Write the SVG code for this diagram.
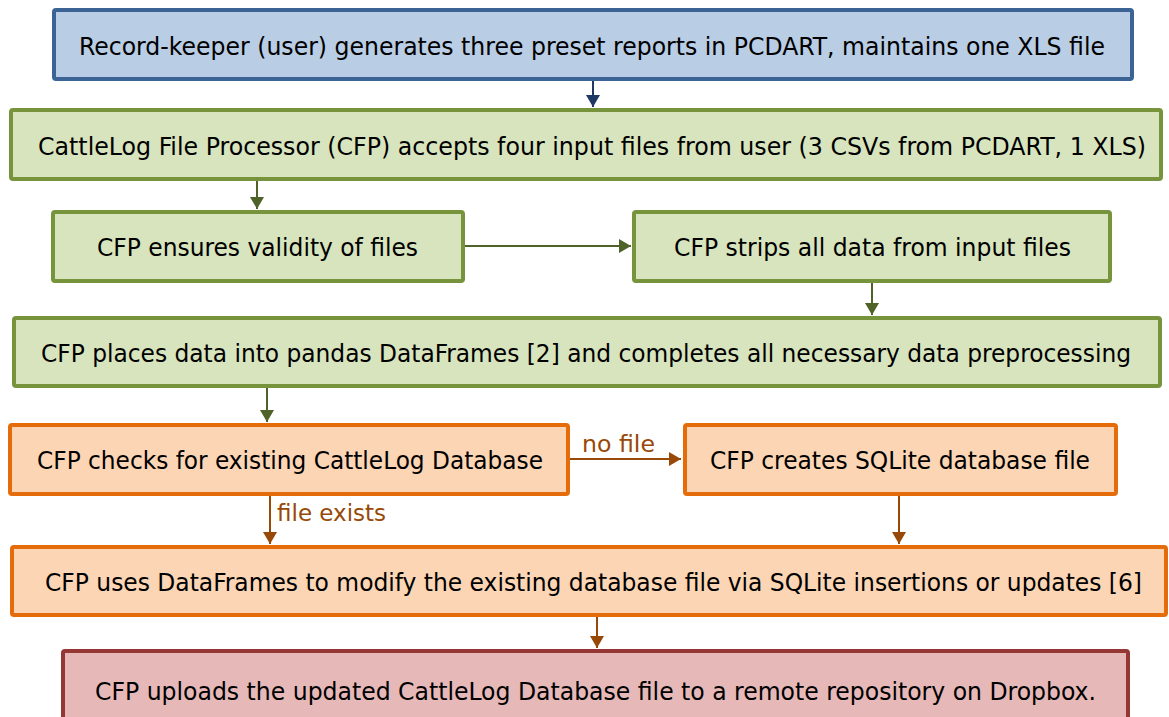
<svg xmlns="http://www.w3.org/2000/svg" width="1169" height="717" viewBox="0 0 1169 717">
<style>
text{font-family:"DejaVu Sans Condensed","DejaVu Sans","Liberation Sans",sans-serif;font-size:25px;fill:#000}
.blue{fill:#b9cde5;stroke:#3b6396;stroke-width:4}
.green{fill:#d7e4bd;stroke:#77933c;stroke-width:4}
.orange{fill:#fcd5b5;stroke:#e46c0a;stroke-width:4}
.red{fill:#e6b9b8;stroke:#953735;stroke-width:4}
.cg{stroke:#4f6228;stroke-width:2;fill:none}
.co{stroke:#984807;stroke-width:2;fill:none}
.cb{stroke:#1f3864;stroke-width:2;fill:none}
.lbl{fill:#984807;font-size:23px}
</style>
<defs>
<marker id="ag" markerUnits="userSpaceOnUse" markerWidth="14" markerHeight="14" refX="12" refY="7" orient="auto"><path d="M0,0 L12,7 L0,14 Z" fill="#4f6228"/></marker>
<marker id="ao" markerUnits="userSpaceOnUse" markerWidth="14" markerHeight="14" refX="12" refY="7" orient="auto"><path d="M0,0 L12,7 L0,14 Z" fill="#984807"/></marker>
<marker id="ab" markerUnits="userSpaceOnUse" markerWidth="14" markerHeight="14" refX="12" refY="7" orient="auto"><path d="M0,0 L12,7 L0,14 Z" fill="#1f3864"/></marker>
</defs>
<g id="connectors">
<line class="cb" x1="593" y1="81" x2="593" y2="107" marker-end="url(#ab)"/>
<line class="cg" x1="257" y1="181" x2="257" y2="209" marker-end="url(#ag)"/>
<line class="cg" x1="465" y1="246" x2="631" y2="246" marker-end="url(#ag)"/>
<line class="cg" x1="872" y1="283" x2="872" y2="315" marker-end="url(#ag)"/>
<line class="cg" x1="267" y1="388" x2="267" y2="422" marker-end="url(#ag)"/>
<line class="co" x1="570" y1="459" x2="681" y2="459" marker-end="url(#ao)"/>
<text class="lbl" x="582" y="452" textLength="73" lengthAdjust="spacingAndGlyphs">no file</text>
<line class="co" x1="270" y1="496" x2="270" y2="544" marker-end="url(#ao)"/>
<text class="lbl" x="277" y="521" textLength="109" lengthAdjust="spacingAndGlyphs">file exists</text>
<line class="co" x1="899" y1="496" x2="899" y2="544" marker-end="url(#ao)"/>
<line class="co" x1="597" y1="617" x2="597" y2="648" marker-end="url(#ao)"/>
</g>
<g id="n1"><rect class="blue" x="54" y="10" width="1078" height="69" rx="2"/><text x="79" y="55" textLength="1026" lengthAdjust="spacingAndGlyphs">Record-keeper (user) generates three preset reports in PCDART, maintains one XLS file</text></g>
<g id="n2"><rect class="green" x="11" y="110" width="1150" height="69" rx="2"/><text x="38" y="155" textLength="1108" lengthAdjust="spacingAndGlyphs">CattleLog File Processor (CFP) accepts four input files from user (3 CSVs from PCDART, 1 XLS)</text></g>
<g id="n3"><rect class="green" x="53" y="212" width="410" height="69" rx="2"/><text x="97" y="256" textLength="321" lengthAdjust="spacingAndGlyphs">CFP ensures validity of files</text></g>
<g id="n4"><rect class="green" x="634" y="212" width="476" height="69" rx="2"/><text x="674" y="256" textLength="397" lengthAdjust="spacingAndGlyphs">CFP strips all data from input files</text></g>
<g id="n5"><rect class="green" x="14" y="318" width="1146" height="68" rx="2"/><text x="41" y="362" textLength="1090" lengthAdjust="spacingAndGlyphs">CFP places data into pandas DataFrames [2] and completes all necessary data preprocessing</text></g>
<g id="n6"><rect class="orange" x="10" y="425" width="558" height="69" rx="2"/><text x="37" y="469" textLength="506" lengthAdjust="spacingAndGlyphs">CFP checks for existing CattleLog Database</text></g>
<g id="n7"><rect class="orange" x="685" y="425" width="431" height="69" rx="2"/><text x="710" y="469" textLength="380" lengthAdjust="spacingAndGlyphs">CFP creates SQLite database file</text></g>
<g id="n8"><rect class="orange" x="12" y="547" width="1154" height="68" rx="2"/><text x="45" y="591" textLength="1097" lengthAdjust="spacingAndGlyphs">CFP uses DataFrames to modify the existing database file via SQLite insertions or updates [6]</text></g>
<g id="n9"><rect class="red" x="63" y="651" width="1065" height="75" rx="2"/><text x="95" y="700" textLength="1001" lengthAdjust="spacingAndGlyphs">CFP uploads the updated CattleLog Database file to a remote repository on Dropbox.</text></g>
</svg>
